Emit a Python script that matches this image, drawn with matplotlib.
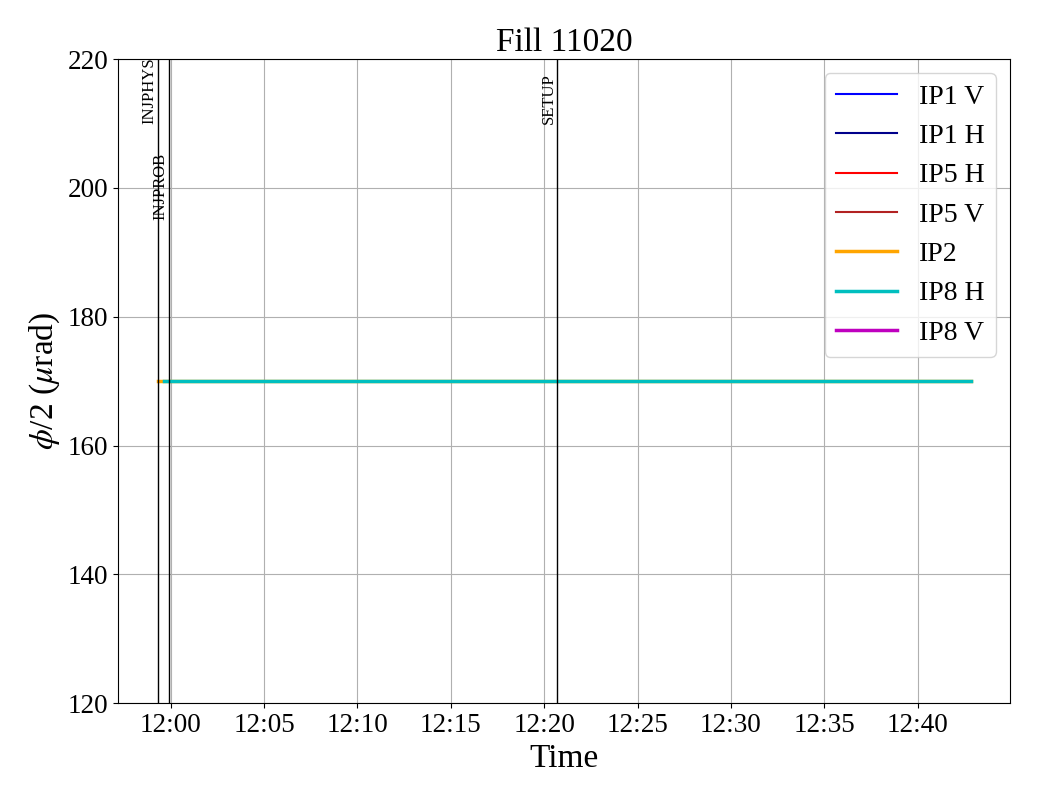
import matplotlib
matplotlib.use("Agg")
import matplotlib.pyplot as plt
import matplotlib.dates as mdates
import numpy as np
from datetime import datetime

plt.rcParams['font.family'] = ['Liberation Serif', 'DejaVu Serif']
plt.rcParams['mathtext.fontset'] = 'stix'

def t(s):
    return datetime.strptime("2025-06-01 " + s, "%Y-%m-%d %H:%M:%S")

# crossing angle series (half angle, urad)
ip2_time = [t("11:59:20"), t("12:42:50")]
ip2_vals = [170, 170]
ip8h_time = [t("11:59:38"), t("12:42:50")]
ip8h_vals = [170, 170]

# beam mode changes
modes = ["INJPHYS", "INJPROB", "SETUP"]
mode_times = [t("11:59:18"), t("11:59:54"), t("12:20:40")]
mode_label_y = [210, 195, 210]

fig = plt.figure(figsize=(10.4, 8), dpi=100)
ax = fig.add_axes([0.1135, 0.121, 0.8575, 0.805])

ax.plot([], [], color='blue', lw=1.5, label='IP1 V')
ax.plot([], [], color='darkblue', lw=1.5, label='IP1 H')
ax.plot([], [], color='red', lw=1.5, label='IP5 H')
ax.plot([], [], color='firebrick', lw=1.5, label='IP5 V')
ax.plot(ip2_time, ip2_vals, color='orange', lw=2.5, label='IP2')
ax.plot(ip8h_time, ip8h_vals, color='c', lw=2.5, label='IP8 H')
ax.plot([], [], color='m', lw=2.5, label='IP8 V')

for m, mt, my in zip(modes, mode_times, mode_label_y):
    ax.axvline(mt, color='black', lw=1)
    ax.text(mt, my, m, rotation=90, ha='right', va='bottom', fontsize=12)

ax.set_ylim(120, 220)
ax.set_xlim(t("11:57:11"), t("12:44:56"))
ax.xaxis.set_major_formatter(mdates.DateFormatter('%H:%M'))
ax.xaxis.set_major_locator(mdates.MinuteLocator(byminute=range(0, 60, 5)))
ax.grid(True)
ax.tick_params(labelsize=19.5)
ax.set_xlabel('Time', fontsize=24)
ax.set_ylabel(r'$\phi$/2 ($\mu$rad)', fontsize=24)
ax.set_title('Fill 11020', fontsize=24)
ax.legend(loc='upper right', fontsize=20, handlelength=2.2)

fig.savefig('out.png')
